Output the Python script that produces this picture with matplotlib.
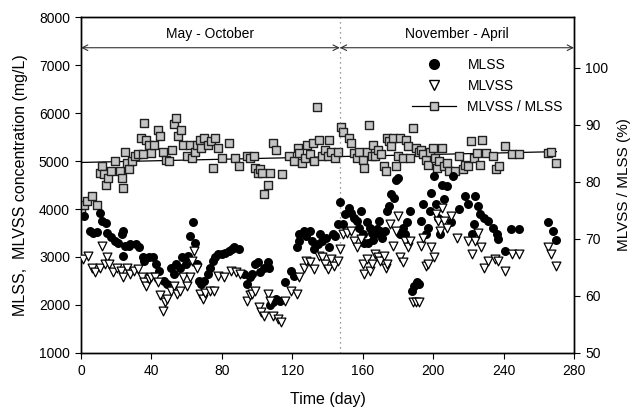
import matplotlib
matplotlib.use("Agg")
import matplotlib.pyplot as plt
from matplotlib.lines import Line2D

plt.rcParams['font.family'] = ['Liberation Sans', 'DejaVu Sans']

# MLSS (mg/L)
mlss_day = [1.7, 5, 7, 9, 11, 12, 14, 15, 17, 19.5, 21, 23, 24, 25, 24, 27, 28, 31.4, 33, 35,
            36, 38.6, 41, 42.6, 44.5, 47, 49, 51, 53, 54, 56, 57.6, 59.5, 61, 62, 63.6, 64.8,
            66, 67, 68, 70, 72, 73, 75, 76, 78, 80, 82, 84, 86, 87, 90, 92.6, 94, 96, 97, 99,
            100.5, 101.7, 104, 106, 107, 107.6, 109, 111, 113, 116, 119.5, 121, 122.6, 123.6,
            124, 126.7, 128, 130, 131, 132.6, 134.5, 136, 137, 139, 141, 143, 144.5, 145.7,
            147, 149, 150, 152, 153.6, 155, 157, 159, 160, 161, 162.4, 164, 165.5, 167, 168,
            169.5, 171, 172.6, 173.6, 175, 176, 178, 179, 180, 181, 182.6, 184, 185, 187,
            188, 189, 191, 192, 193, 194.5, 196, 197, 198, 199, 200.5, 201.7, 203, 204, 205,
            206.4, 208, 210, 211, 214.8, 218, 220, 222, 223, 224, 225.5, 226.7, 229, 231,
            234, 236, 237, 241, 244, 249, 265.5, 268, 269.5,
            163, 166, 170, 158]
mlss = [3850, 3550, 3500, 3520, 3920, 3750, 3700, 3500, 3420, 3340, 3300, 3470, 3540, 3230,
        3025, 3230, 3270, 3270, 3200, 2990, 2920, 2990, 2990, 2850, 2710, 2500, 2440, 2780,
        2640, 2850, 2780, 3000, 2850, 3020, 3440, 3720, 3300, 2850, 2500, 2440, 2500, 2640,
        2780, 2920, 2990, 3060, 3060, 3090, 3130, 3160, 3200, 3160, 2640, 2440, 2580, 2640,
        2850, 2890, 2680, 2780, 2890, 2780, 1990, 2060, 2130, 2090, 2470, 2710, 2610, 3200,
        3470, 3340, 3540, 3440, 3540, 3340, 3160, 3270, 3470, 3340, 3400, 3200, 3470, 3440,
        3680, 4150, 3680, 3890, 4030, 3920, 3820, 3750, 3960, 3470, 3300, 3720, 3610, 3510,
        3470, 3580, 3750, 3400, 3540, 3960, 4060, 4320, 4230, 4610, 4650, 3470, 3610, 3470,
        3720, 3960, 2300, 2400, 2470, 2440, 3750, 4100, 3470, 3610, 3960, 4340, 4680, 4100,
        3820, 3470, 4510, 4200, 4480, 3720, 4680, 4000, 4270, 4100, 3470, 3680, 4270, 4060,
        3890, 3820, 3750, 3610, 3470, 3370, 3130, 3580, 3580, 3720, 3540, 3350,
        3300, 3350, 3550, 3600]

# MLVSS (mg/L)
mlvss_day = [1, 4, 6, 8, 11, 12, 13.6, 15, 16, 18, 20.7, 22.6, 24, 26, 28, 30, 32.6, 34.5,
             35.5, 37, 38.6, 40, 42, 44, 45, 46.4, 47.6, 49, 51, 53, 54.5, 56, 58, 60, 61.7,
             63, 64, 66, 67.6, 69, 70.7, 73, 75.5, 78, 81.4, 85, 88, 90.5, 94, 96, 97, 99,
             101, 102.4, 104, 106, 107.6, 109, 111.7, 113.6, 116, 119.5, 122.6, 123.6, 126.7,
             128, 130, 132.6, 135, 137, 138.6, 140, 142, 143.5, 145.7, 147, 149, 151, 153.6,
             155, 157, 159, 160, 161, 162.4, 164, 165.5, 167, 168.8, 170, 172, 173, 174,
             175.5, 177, 179, 180, 181, 182.6, 184, 186, 187, 188.6, 190.5, 192, 193, 194.5,
             196, 197, 199, 200.5, 201.7, 203, 204, 205, 206.4, 208, 210, 213.6, 220, 222,
             224, 225.5, 227.4, 229, 231, 235, 237, 241, 244.6, 249, 265, 267, 269.5]
mlvss = [2960, 3030, 2780, 2680, 2780, 3230, 2850, 2990, 2850, 2680, 2780, 2710, 2580, 2780,
         2640, 2710, 2750, 2580, 2470, 2400, 2540, 2580, 2580, 2470, 2200, 1880, 2060, 2130,
         2300, 2400, 2230, 2300, 2580, 2400, 2580, 2920, 3130, 2780, 2230, 2130, 2260, 2300,
         2300, 2610, 2580, 2700, 2680, 2640, 2090, 2200, 2230, 2300, 1950, 1850, 1780, 2230,
         2090, 1780, 1710, 1640, 2090, 2300, 2230, 2580, 2780, 2920, 2890, 2750, 3030, 2990,
         2850, 2750, 2960, 2820, 2920, 3160, 3470, 3500, 3540, 3340, 3200, 3370, 2850, 2640,
         2960, 2710, 2850, 3060, 2990, 2920, 3030, 2780, 2850, 3680, 3230, 3540, 3850, 2990,
         2890, 3340, 3200, 3340, 2060, 2060, 2060, 3230, 3400, 2820, 2850, 3200, 2990, 3890,
         3750, 3540, 4030, 3750, 3610, 3850, 3400, 3340, 3060, 3340, 3510, 3200, 2780, 2920,
         2960, 2920, 2710, 3060, 3060, 3200, 3060, 2820]

# MLVSS / MLSS (%)
ratio_day = [0, 1.7, 3.6, 6, 8.8, 10.7, 12, 13, 14, 15.5, 17, 19.5, 21.9, 23, 23.6, 25, 26,
             27.4, 29, 30.7, 32.6, 34.3, 35, 35.7, 37, 38.6, 39.8, 41.7, 44, 45, 46.4, 48,
             49.8, 51.7, 52.9, 54, 55, 57, 58, 60, 61.7, 63, 64.8, 66, 67.6, 68.3, 70, 72,
             73.6, 75, 76, 78, 80, 84, 87.4, 90, 94, 96, 98, 99, 100.5, 101.7, 103, 104, 106,
             107.6, 109, 110.7, 114, 118, 121, 123, 124, 125.5, 127, 128.6, 130, 131.5, 132.6,
             133.9, 135, 137, 138.6, 140, 141, 142, 144, 145.7, 147.4, 149, 152, 153.6, 155,
             157, 158, 160, 161, 162.4, 163.6, 165, 166, 167, 168.8, 170.2, 172, 173, 173.6,
             175, 176, 177.4, 179, 180, 181, 182.6, 184.5, 186, 187, 188.6, 190, 191.7, 193,
             194.5, 196, 197, 198, 200, 201, 202.4, 203.6, 204.8, 206, 207.6, 209, 212.4,
             214.8, 217, 218.3, 220, 221.4, 223, 225, 226.7, 228, 230, 234, 235.7, 237.4, 241,
             244.6, 249, 265.5, 267, 269.5]
ratio = [74.9, 76.0, 76.6, 77.5, 76.0, 81.6, 82.7, 81.3, 79.5, 80.7, 81.9, 83.6, 81.9, 80.7,
         79.0, 85.3, 83.3, 82.2, 83.6, 84.5, 84.8, 87.7, 84.8, 90.3, 87.4, 86.5, 85.1, 86.5,
         89.1, 88.0, 85.3, 83.9, 83.6, 85.6, 90.1, 91.2, 88.0, 89.1, 86.5, 84.5, 86.5, 84.2,
         85.3, 86.5, 87.4, 85.9, 87.7, 86.5, 87.1, 82.4, 87.7, 85.9, 84.2, 86.8, 84.2, 82.7,
         84.5, 84.2, 84.5, 82.4, 81.6, 82.2, 81.6, 77.8, 79.5, 81.6, 86.8, 85.6, 81.3, 84.5,
         83.6, 85.9, 85.1, 83.3, 84.2, 86.5, 84.8, 86.8, 83.6, 93.2, 87.4, 84.5, 85.6, 84.5,
         87.4, 85.3, 84.2, 85.3, 89.6, 88.8, 87.7, 86.8, 85.1, 84.2, 85.3, 83.9, 82.4, 85.3,
         90.0, 84.5, 86.5, 84.5, 85.6, 84.8, 82.7, 81.9, 87.7, 87.1, 86.2, 87.7, 82.7, 84.5,
         87.7, 84.2, 87.4, 86.2, 84.2, 89.4, 85.9, 85.3, 85.6, 84.8, 83.9, 83.0, 85.3, 85.9,
         84.2, 82.4, 83.6, 85.9, 82.7, 83.3, 81.9, 81.9, 84.5, 82.2, 83.0, 82.7, 87.1, 84.2,
         85.1, 83.0, 87.4, 85.1, 84.5, 82.2, 82.7, 86.2, 84.8, 84.8, 85.1, 85.3, 83.3]

# fitted trend of the ratio
trend_day = [0, 270]
trend_ratio = [83.4, 85.3]

season_split = 147
season_labels = ["May - October", "November - April"]

fig = plt.figure(figsize=(6.3, 4.07), dpi=100)
ax = fig.add_axes([0.1286, 0.1327, 0.7825, 0.8255])
ax2 = ax.twinx()

ax.scatter(mlss_day, mlss, s=42, c='black', marker='o', linewidths=0, zorder=3)
ax.scatter(mlvss_day, mlvss, s=40, facecolors='white', edgecolors='black', marker='v',
           linewidths=0.9, zorder=4)
ax2.plot(trend_day, trend_ratio, color='black', lw=0.9, zorder=2)
ax2.scatter(ratio_day, ratio, s=30, marker='s', facecolors='#c4c4c4', edgecolors='#202020',
            linewidths=1.0, zorder=3)

ax.set_xlim(0, 280)
ax.set_ylim(1000, 8000)
ax2.set_ylim(50, 108.9)
ax.set_xticks(range(0, 281, 40))
ax.set_yticks(range(1000, 8001, 1000))
ax2.set_yticks(range(50, 101, 10))

ax.set_zorder(ax2.get_zorder() + 1)
ax.patch.set_visible(False)

for a in (ax, ax2):
    a.tick_params(direction='out', length=4, width=0.8, labelsize=10, pad=4)
    for s in a.spines.values():
        s.set_linewidth(1.0)
ax.tick_params(top=False)

ax.set_xlabel("Time (day)", fontsize=11.5, labelpad=10)
ax.set_ylabel("MLSS,  MLVSS concentration (mg/L)", fontsize=11.5, labelpad=8)
ax2.set_ylabel("MLVSS / MLSS (%)", fontsize=11, labelpad=6)

# season divider and arrows
ax.axvline(season_split, color='#777777', lw=0.9, ls=(0, (1, 3)), zorder=1)
arrow_y = 7360
ax.annotate('', xy=(0, arrow_y), xytext=(season_split, arrow_y),
            arrowprops=dict(arrowstyle='<->', color='#333333', lw=0.8, shrinkA=0, shrinkB=0))
ax.annotate('', xy=(season_split, arrow_y), xytext=(280, arrow_y),
            arrowprops=dict(arrowstyle='<->', color='#333333', lw=0.8, shrinkA=0, shrinkB=0))
ax.text(season_split / 2, 7650, season_labels[0], ha='center', va='center', fontsize=10)
ax.text((season_split + 280) / 2, 7650, season_labels[1], ha='center', va='center', fontsize=10)

handles = [
    Line2D([], [], ls='none', marker='o', color='black', markersize=7),
    Line2D([], [], ls='none', marker='v', markerfacecolor='white', markeredgecolor='black',
           markersize=7),
    Line2D([], [], color='black', lw=0.9, marker='s', markerfacecolor='#c4c4c4',
           markeredgecolor='#202020', markersize=6),
]
ax.legend(handles, ["MLSS", "MLVSS", "MLVSS / MLSS"], loc='upper left',
          bbox_to_anchor=(0.66, 0.895), frameon=False, fontsize=10,
          handlelength=3.2, labelspacing=0.5, handletextpad=0.8, borderaxespad=0)

fig.savefig("out.png", dpi=100)
